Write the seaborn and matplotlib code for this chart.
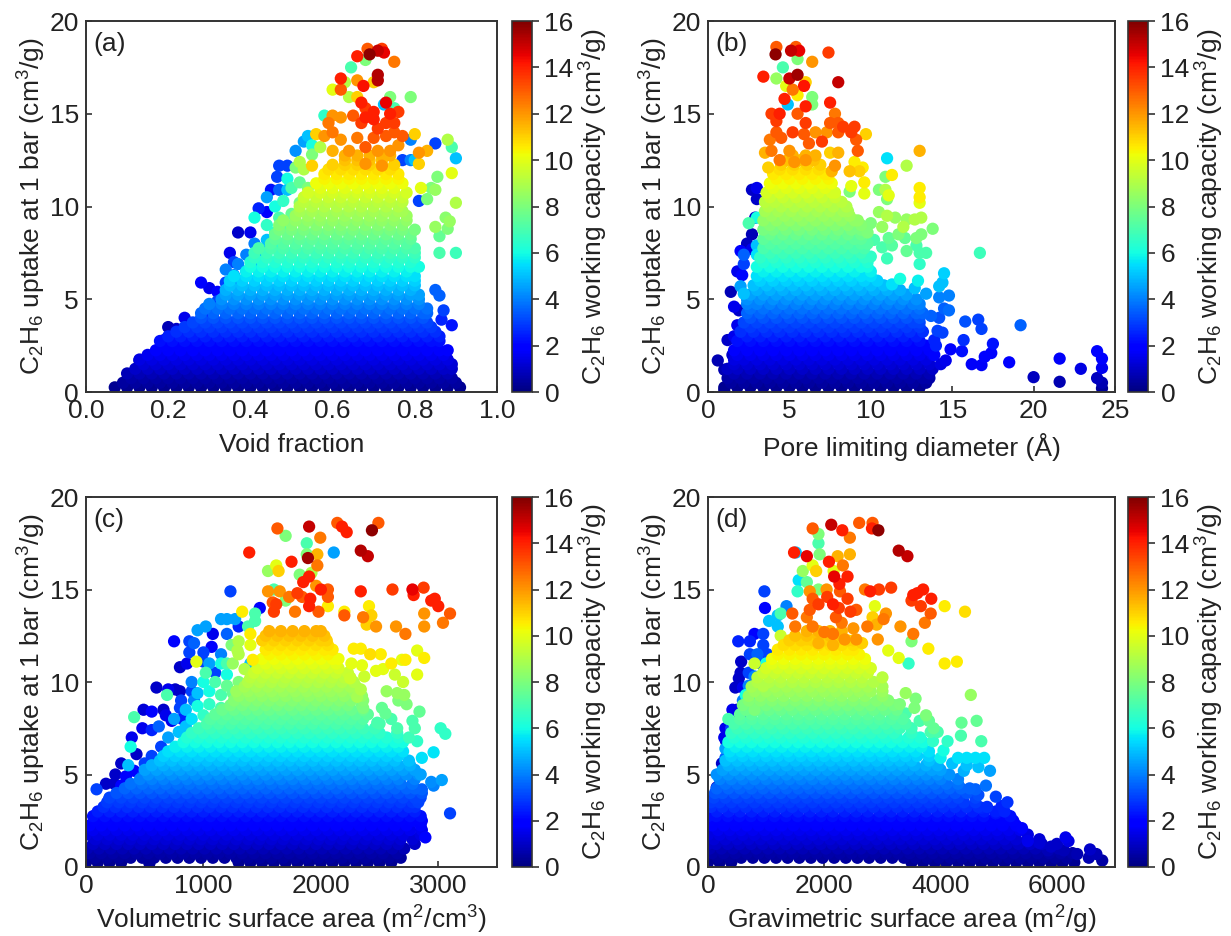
import matplotlib
matplotlib.use("Agg")
import matplotlib.pyplot as plt
import pandas as pd
import seaborn as sns
from matplotlib.cm import ScalarMappable
from matplotlib.colors import Normalize

row_uptake = [0.25, 0.75, 1.25, 1.75, 2.25, 2.75, 3.25, 3.75, 4.25, 4.75, 5.25, 5.75, 6.25,
              6.75, 7.25, 7.75, 8.25, 8.75, 9.25, 9.75, 10.25, 10.75, 11.25, 11.75, 12.25, 12.75]
row_capacity = [0.25, 0.6, 1.0, 1.4, 1.8, 2.2, 2.7, 3.1, 3.6, 4.0, 4.5, 5.0, 5.5,
                6.0, 6.5, 7.0, 7.4, 7.9, 8.4, 8.8, 9.2, 9.7, 10.2, 10.6, 11.0, 11.5]
# levels in between the rows above
mid_uptake = [0.5, 1, 1.5, 2, 2.5, 3, 3.5, 4, 4.5, 5, 5.5, 6, 6.5, 7, 7.5, 8, 8.5, 9, 9.5, 10, 10.5, 11, 11.5, 12, 12.5]
mid_capacity = [0.45, 0.8, 1.2, 1.6, 2.0, 2.45, 2.9, 3.35, 3.8, 4.25, 4.75, 5.25, 5.75, 6.25, 6.75,
                7.2, 7.65, 8.15, 8.6, 9.0, 9.45, 9.95, 10.4, 10.8, 11.25]

void_rows = [
    [7, 10, 13, 16, 19, 22, 25, 28, 31, 34, 37, 40, 43, 46, 49, 52, 55, 58, 61, 64, 67, 70, 73, 76, 79, 82, 85, 88, 91],
    [11, 14, 17, 20, 23, 26, 29, 32, 35, 38, 41, 44, 47, 50, 53, 56, 59, 62, 65, 68, 71, 74, 77, 80, 83, 86, 89],
    [12, 15, 18, 21, 24, 27, 30, 33, 36, 39, 42, 45, 48, 51, 54, 57, 60, 63, 66, 69, 72, 75, 78, 81, 84, 87, 89],
    [13, 16, 19, 22, 25, 28, 31, 34, 37, 40, 43, 46, 49, 52, 55, 58, 61, 64, 67, 70, 73, 76, 79, 82, 85, 88],
    [17, 20, 23, 26, 29, 32, 35, 38, 41, 44, 47, 50, 53, 56, 59, 62, 65, 68, 71, 74, 77, 80, 83, 86, 88],
    [18, 21, 24, 27, 30, 33, 36, 39, 42, 45, 48, 51, 54, 57, 60, 63, 66, 69, 72, 75, 78, 81, 84, 86],
    [22, 25, 28, 31, 34, 37, 40, 43, 46, 49, 52, 55, 58, 61, 64, 67, 70, 73, 76, 79, 82, 85],
    [26, 29, 32, 35, 38, 41, 44, 47, 50, 53, 56, 59, 62, 65, 68, 71, 74, 77, 80, 83],
    [28, 31, 34, 37, 40, 43, 46, 49, 52, 55, 58, 61, 64, 67, 70, 73, 76, 79, 82, 83],
    [30, 33, 36, 39, 42, 45, 48, 51, 54, 57, 60, 63, 66, 69, 72, 75, 78, 81],
    [34, 37, 40, 43, 46, 49, 52, 55, 58, 61, 64, 67, 70, 73, 76, 79, 81],
    [35, 38, 41, 44, 47, 50, 53, 56, 59, 62, 65, 68, 71, 74, 77, 80],
    [36, 39, 42, 45, 48, 51, 54, 57, 60, 63, 66, 69, 72, 75, 78, 80],
    [40, 43, 46, 49, 52, 55, 58, 61, 64, 67, 70, 73, 76, 79, 81],
    [41, 44, 47, 50, 53, 56, 59, 62, 65, 68, 71, 74, 77, 80],
    [42, 45, 48, 51, 54, 57, 60, 63, 66, 69, 72, 75, 78, 80],
    [46, 49, 52, 55, 58, 61, 64, 67, 70, 73, 76, 79],
    [47, 50, 53, 56, 59, 62, 65, 68, 71, 74, 77, 80],
    [48, 51, 54, 57, 60, 63, 66, 69, 72, 75, 78],
    [52, 55, 58, 61, 64, 67, 70, 73, 76, 77],
    [53, 56, 59, 62, 65, 68, 71, 74, 77],
    [54, 57, 60, 63, 66, 69, 72, 75, 78],
    [56, 59, 62, 65, 68, 71, 74, 77],
    [58, 61, 64, 67, 70, 73, 76],
    [60, 63, 66, 69, 72, 75],
    [63, 66, 69, 72, 74],
]
void_mid = [
    [9, 12, 15, 18, 21, 24, 27, 30, 33, 36, 39, 42, 45, 48, 51, 54, 57, 60, 63, 66, 69, 72, 75, 78, 81, 84, 87, 90],
    [10, 13, 16, 19, 22, 25, 28, 31, 34, 37, 40, 43, 46, 49, 52, 55, 58, 61, 64, 67, 70, 73, 76, 79, 82, 85, 88],
    [14, 17, 20, 23, 26, 29, 32, 35, 38, 41, 44, 47, 50, 53, 56, 59, 62, 65, 68, 71, 74, 77, 80, 83, 86, 89],
    [15, 18, 21, 24, 27, 30, 33, 36, 39, 42, 45, 48, 51, 54, 57, 60, 63, 66, 69, 72, 75, 78, 81, 84, 87],
    [19, 22, 25, 28, 31, 34, 37, 40, 43, 46, 49, 52, 55, 58, 61, 64, 67, 70, 73, 76, 79, 82, 85],
    [20, 23, 26, 29, 32, 35, 38, 41, 44, 47, 50, 53, 56, 59, 62, 65, 68, 71, 74, 77, 80, 83, 86],
    [24, 27, 30, 33, 36, 39, 42, 45, 48, 51, 54, 57, 60, 63, 66, 69, 72, 75, 78, 81, 84],
    [28, 31, 34, 37, 40, 43, 46, 49, 52, 55, 58, 61, 64, 67, 70, 73, 76, 79, 82],
    [29, 32, 35, 38, 41, 44, 47, 50, 53, 56, 59, 62, 65, 68, 71, 74, 77, 80, 83],
    [33, 36, 39, 42, 45, 48, 51, 54, 57, 60, 63, 66, 69, 72, 75, 78, 81],
    [34, 37, 40, 43, 46, 49, 52, 55, 58, 61, 64, 67, 70, 73, 76, 79],
    [35, 38, 41, 44, 47, 50, 53, 56, 59, 62, 65, 68, 71, 74, 77, 80],
    [39, 42, 45, 48, 51, 54, 57, 60, 63, 66, 69, 72, 75, 78],
    [40, 43, 46, 49, 52, 55, 58, 61, 64, 67, 70, 73, 76, 79],
    [41, 44, 47, 50, 53, 56, 59, 62, 65, 68, 71, 74, 77, 80],
    [45, 48, 51, 54, 57, 60, 63, 66, 69, 72, 75, 78],
    [46, 49, 52, 55, 58, 61, 64, 67, 70, 73, 76, 79],
    [47, 50, 53, 56, 59, 62, 65, 68, 71, 74, 77],
    [51, 54, 57, 60, 63, 66, 69, 72, 75, 78],
    [52, 55, 58, 61, 64, 67, 70, 73, 76],
    [53, 56, 59, 62, 65, 68, 71, 74, 77],
    [57, 60, 63, 66, 69, 72, 75],
    [58, 61, 64, 67, 70, 73, 76],
    [59, 62, 65, 68, 71, 74],
    [63, 66, 69, 72],
]
void_points = [
    (.69, 18.2, 15.8), (.71, 18.4, 15), (.685, 18.5, 13), (.72, 18.5, 13.5), (.725, 18.3, 14.5), (.66, 18.1, 14),
    (.68, 17.9, 8), (.645, 17.5, 7), (.75, 17.8, 12.5), (.71, 17.1, 15.3), (.71, 16.8, 15.2), (.62, 16.9, 14),
    (.66, 16.8, 12), (.70, 16.7, 11), (.63, 16.7, 9), (.675, 16.5, 14.3), (.60, 16.3, 10), (.62, 16.3, 13),
    (.64, 15.9, 9), (.66, 15.9, 11), (.74, 15.9, 8), (.79, 15.9, 8), (.725, 15.5, 5), (.67, 15.6, 14),
    (.73, 15.6, 14.5), (.75, 15.3, 7), (.68, 15.3, 13.5), (.70, 15.1, 14), (.58, 14.9, 6.5), (.60, 14.9, 12),
    (.74, 15, 14), (.76, 15.1, 13.5), (.59, 14.5, 12.5), (.65, 14.9, 13), (.68, 14.8, 14), (.70, 14.7, 14),
    (.73, 14.5, 13.5), (.75, 14.5, 13.5), (.62, 14.8, 12), (.67, 14.5, 13.5), (.75, 14, 13), (.71, 14.2, 13.5),
    (.56, 13.9, 11), (.54, 13.8, 5), (.53, 13.5, 4.5), (.51, 13, 4.3), (.55, 13.3, 6), (.70, 13.7, 13),
    (.73, 13.8, 13), (.77, 13.8, 13), (.79, 13.6, 4), (.80, 13.9, 11), (.85, 13.4, 3), (.88, 13.6, 9),
    (.89, 13.2, 7), (.90, 12.6, 5), (.83, 13, 11.5), (.81, 12.9, 12), (.79, 12.5, 4), (.77, 12.5, 3),
    (.81, 12.3, 11), (.80, 12.5, 5), (.68, 12.3, 12), (.72, 12.2, 12), (.64, 13, 12), (.60, 13, 11.5),
    (.62, 13.6, 12), (.66, 13.7, 12.5), (.68, 13.2, 13), (.71, 13, 12), (.74, 13, 12), (.76, 13.3, 12),
    (.47, 12.2, 3), (.49, 12.2, 3), (.51, 12.1, 8), (.55, 12.2, 11), (.53, 12, 9), (.89, 11.8, 10),
    (.855, 11.6, 8), (.815, 11, 10), (.84, 11, 8), (.85, 10.9, 8.5), (.465, 11.6, 3), (.45, 10.9, 2.2),
    (.47, 10.9, 3.5), (.49, 10.9, 5), (.44, 10.5, 4.5), (.90, 10.2, 9), (.81, 10.3, 3), (.83, 10.4, 8),
    (.42, 9.9, 2.5), (.44, 9.7, 1.8), (.41, 9.4, 6), (.875, 9.4, 8.3), (.885, 9.2, 8.5), (.85, 8.9, 8.5),
    (.88, 8.8, 8), (.86, 8.4, 7.5), (.37, 8.6, 1), (.40, 8.6, 1.5), (.90, 7.5, 6.8), (.86, 7.5, 7),
    (.35, 7.5, 1.5), (.36, 7, 3), (.34, 6.6, 4), (.28, 5.9, 2), (.30, 5.6, 1.5), (.32, 5.4, 2), (.34, 5.9, 3),
    (.85, 5.5, 3.5), (.86, 5.2, 3.5), (.87, 4.4, 3), (.865, 3.9, 2.5), (.89, 3.6, 2.3), (.24, 4, 1.5),
    (.2, 3.5, .8), (.22, 3.4, 1), (.25, 3.3, 1.5), (.19, 2.8, .8), (.13, 1.7, .5),
    (.44, 9, 6.5), (.47, 9.4, 7), (.50, 9.6, 7.5), (.46, 8.6, 6.5), (.49, 8.8, 7), (.44, 8.2, 5), (.47, 8, 6),
    (.41, 8, 4), (.43, 7.6, 5), (.39, 7.4, 4), (.41, 7, 5), (.37, 6.9, 4), (.39, 6.5, 4.5), (.36, 6.3, 4),
    (.37, 5.8, 4), (.34, 5.3, 3.5), (.32, 4.9, 3), (.30, 4.6, 2.5), (.29, 4.2, 2.5), (.52, 10.2, 8), (.48, 10.3, 6.5),
    (.46, 10, 6), (.5, 11, 7), (.52, 11.3, 7.5), (.54, 11, 8), (.49, 11.5, 6), (.52, 12.4, 9), (.55, 12.8, 8),
    (.57, 13.2, 9), (.58, 13.8, 12), (.6, 14, 12.5),
]

pld_rows = [
    [1, 1.8, 2.6, 3.4, 4.2, 5, 5.8, 6.6, 7.4, 8.2, 9, 9.8, 10.6, 11.4, 12.2, 13],
    [1.2, 2, 2.8, 3.6, 4.4, 5.2, 6, 6.8, 7.6, 8.4, 9.2, 10, 10.8, 11.6, 12.4, 13.2, 13.6],
    [1.2, 1.8, 2.6, 3.4, 4.2, 5, 5.8, 6.6, 7.4, 8.2, 9, 9.8, 10.6, 11.4, 12.2, 13, 13.8],
    [1.6, 2.2, 3, 3.8, 4.6, 5.4, 6.2, 7, 7.8, 8.6, 9.4, 10.2, 11, 11.8, 12.6, 13.4],
    [1.6, 2.4, 3.2, 4, 4.8, 5.6, 6.4, 7.2, 8, 8.8, 9.6, 10.4, 11.2, 12, 12.8, 13.6],
    [1.8, 2.6, 3.4, 4.2, 5, 5.8, 6.6, 7.4, 8.2, 9, 9.8, 10.6, 11.4, 12.2, 13],
    [2, 2.8, 3.6, 4.4, 5.2, 6, 6.8, 7.6, 8.4, 9.2, 10, 10.8, 11.6, 12.4, 13.2],
    [2.2, 3, 3.8, 4.6, 5.4, 6.2, 7, 7.8, 8.6, 9.4, 10.2, 11, 11.8, 12.6, 13],
    [2.4, 3.2, 4, 4.8, 5.6, 6.4, 7.2, 8, 8.8, 9.6, 10.4, 11.2, 12, 12.8, 13.2],
    [2.4, 3, 3.8, 4.6, 5.4, 6.2, 7, 7.8, 8.6, 9.4, 10.2, 11, 11.8, 12.6, 13],
    [2.6, 3.4, 4.2, 5, 5.8, 6.6, 7.4, 8.2, 9, 9.8, 10.6, 11.4, 12.2],
    [2.8, 3.6, 4.4, 5.2, 6, 6.8, 7.6, 8.4, 9.2, 10, 10.8],
    [3, 3.8, 4.6, 5.4, 6.2, 7, 7.8, 8.6, 9.4, 10],
    [3, 3.8, 4.6, 5.4, 6.2, 7, 7.8, 8.6, 9.4, 9.8],
    [3.2, 4, 4.8, 5.6, 6.4, 7.2, 8, 8.8, 9.6],
    [3.4, 4.2, 5, 5.8, 6.6, 7.4, 8.2, 9, 9.6],
    [3.4, 4.2, 5, 5.8, 6.6, 7.4, 8.2, 9, 9.4],
    [3.4, 4, 4.8, 5.6, 6.4, 7.2, 8, 8.8, 9.4],
    [3.4, 4.2, 5, 5.8, 6.6, 7.4, 8.2, 9, 9.2],
    [3.5, 4.3, 5.1, 5.9, 6.7, 7.5, 8.3, 8.6],
    [3.5, 4.1, 4.9, 5.7, 6.5, 7.3, 8.2],
    [3.6, 4.4, 5.2, 6, 6.8, 7.6, 7.8],
    [3.8, 4.6, 5.4, 6.2, 7, 7.6],
    [4, 4.8, 5.6, 6.4, 7.2, 7.4],
    [4.5, 5.3, 6.1, 6.9],
    [5.2, 6, 6.6],
]
pld_mid = [
    [1.4, 2.2, 3, 3.8, 4.6, 5.4, 6.2, 7, 7.8, 8.6, 9.4, 10.2, 11, 11.8, 12.6, 13.4],
    [1.6, 2.4, 3.2, 4, 4.8, 5.6, 6.4, 7.2, 8, 8.8, 9.6, 10.4, 11.2, 12, 12.8, 13.6],
    [1.6, 2.4, 3.2, 4, 4.8, 5.6, 6.4, 7.2, 8, 8.8, 9.6, 10.4, 11.2, 12, 12.8, 13.6],
    [1.8, 2.6, 3.4, 4.2, 5, 5.8, 6.6, 7.4, 8.2, 9, 9.8, 10.6, 11.4, 12.2, 13, 13.8],
    [2.2, 3, 3.8, 4.6, 5.4, 6.2, 7, 7.8, 8.6, 9.4, 10.2, 11, 11.8, 12.6, 13.4],
    [2.4, 3.2, 4, 4.8, 5.6, 6.4, 7.2, 8, 8.8, 9.6, 10.4, 11.2, 12, 12.8],
    [2.6, 3.4, 4.2, 5, 5.8, 6.6, 7.4, 8.2, 9, 9.8, 10.6, 11.4, 12.2, 13],
    [2.6, 3.4, 4.2, 5, 5.8, 6.6, 7.4, 8.2, 9, 9.8, 10.6, 11.4, 12.2, 13],
    [2.6, 3.4, 4.2, 5, 5.8, 6.6, 7.4, 8.2, 9, 9.8, 10.6, 11.4, 12.2, 13],
    [2.4, 3.2, 4, 4.8, 5.6, 6.4, 7.2, 8, 8.8, 9.6, 10.4, 11.2, 12, 12.8],
    [3, 3.8, 4.6, 5.4, 6.2, 7, 7.8, 8.6, 9.4, 10.2, 11, 11.8],
    [3.2, 4, 4.8, 5.6, 6.4, 7.2, 8, 8.8, 9.6, 10.4],
    [3.4, 4.2, 5, 5.8, 6.6, 7.4, 8.2, 9, 10],
    [3.4, 4.2, 5, 5.8, 6.6, 7.4, 8.2, 9, 9.8],
    [3.8, 4.6, 5.4, 6.2, 7, 7.8, 8.6, 9.4],
    [3.8, 4.6, 5.4, 6.2, 7, 7.8, 8.6, 9.4, 9.8],
    [3.8, 4.6, 5.4, 6.2, 7, 7.8, 8.6, 9.4],
    [3.8, 4.6, 5.4, 6.2, 7, 7.8, 8.6, 9.4],
    [3.9, 4.7, 5.5, 6.3, 7.1, 7.9, 8.7],
    [3.7, 4.5, 5.3, 6.1, 6.9, 7.7, 8.5],
    [3.8, 4.6, 5.4, 6.2, 7, 7.8],
    [4, 4.8, 5.6, 6.4, 7.2],
    [4.2, 5, 5.8, 6.6, 7.4],
    [4.4, 5.2, 6, 6.8],
    [4.9, 5.7, 6.5],
]
pld_points = [
    (4.2, 18.6, 13), (4.15, 18.2, 15.8), (5.4, 18.6, 13), (5.1, 18.4, 15), (5.6, 18.4, 14.5), (7.4, 18.3, 13.5),
    (5.5, 17.95, 8), (6.4, 17.8, 12), (4.6, 17.5, 7), (5.5, 17.1, 15.5), (3.4, 17, 14), (4.2, 16.9, 8.5),
    (5, 16.9, 15), (6, 16.7, 11), (8, 16.7, 15), (5.9, 16.5, 14.2), (4.8, 16.5, 10), (5.2, 16.3, 12.5),
    (5.5, 16, 10.5), (6.4, 15.9, 8), (4.7, 15.8, 14), (7.5, 15.6, 14), (6, 15.4, 14), (6.4, 15.5, 8),
    (4.9, 15.5, 5), (3.9, 15, 13.5), (4.4, 15, 14), (5.5, 15, 13), (7.8, 15, 12.5), (4.2, 14.6, 13.5),
    (7.5, 14.5, 13), (6, 14.5, 13.5), (8, 14.5, 13), (8.3, 14.3, 13.5), (9, 14.3, 13.5), (4.2, 14, 13),
    (5.2, 14, 13.5), (5.9, 13.9, 13), (6.6, 14, 12), (7.3, 14, 12), (8, 14, 13), (8.8, 14, 13.5), (9.7, 13.9, 11),
    (3.8, 13.6, 12.5), (4.5, 13.7, 13), (7, 13.5, 13.5), (9.1, 13.6, 13), (6.2, 13.4, 13), (3.5, 12.9, 11.5),
    (3.9, 13, 12.5), (5, 13, 12), (7.5, 12.9, 11), (8, 12.9, 11.5), (9.2, 13, 13), (13, 13, 11.5), (11, 12.6, 5.5),
    (4.4, 12.5, 12.5), (5.3, 12.4, 12), (6, 12.5, 12), (7.8, 12.2, 12), (9, 12.4, 10.5), (9.5, 12.1, 10.5),
    (12.2, 12.2, 9), (3.7, 12.1, 11), (7.6, 11.9, 11.5), (8.7, 11.9, 11.3), (9.3, 11.9, 11), (10.9, 11.6, 8),
    (11.3, 11.7, 10.5), (8.8, 11.1, 10), (9.6, 11.3, 10.5), (4.2, 11.2, 10), (13, 11, 10.5), (3, 11, 1.5),
    (2.7, 10.9, 1), (10.9, 10.9, 9), (11.1, 10.6, 10), (10.5, 10.9, 8), (8.7, 10.8, 8), (9.6, 10.7, 10),
    (13, 10.5, 10.5), (13, 10.2, 10), (3, 10.4, 1), (11, 10.4, 8), (10.5, 9.7, 8.5), (11, 9.5, 9), (11.5, 9.4, 8.5),
    (10, 9.1, 8), (9.8, 8.6, 8), (10.7, 8.9, 8.5), (12.2, 9.3, 8.5), (12.7, 9.3, 9), (13.1, 9.4, 9), (12, 8.9, 9),
    (13.8, 8.8, 8), (11.1, 8.3, 7.5), (11.7, 8.5, 8), (12.1, 8.3, 7.5), (12.8, 8.3, 8), (13.1, 8.5, 8),
    (10.2, 8.2, 7), (10.7, 7.8, 7), (11.3, 7.9, 7.3), (12.2, 7.6, 7.5), (12.8, 7.9, 7), (13, 7.5, 7), (13.4, 7.5, 7),
    (10, 7.3, 6.5), (11, 7.2, 6.8), (13, 6.9, 6.5), (16.7, 7.5, 6.8), (14.5, 6.4, 5.3), (14.4, 5.9, 5),
    (14.2, 5.7, 5), (11.8, 6.1, 6), (11.3, 5.8, 5.5), (12.9, 6, 5.8), (12.7, 5.6, 5), (14.8, 5.2, 4), (13.4, 5.3, 4.5),
    (14.2, 5.1, 4), (15.8, 3.8, 3.3), (16.6, 3.9, 3), (16.8, 3.4, 3), (19.2, 3.6, 3.5), (15.7, 2.8, 2.7),
    (15.6, 2.2, 2.2), (14.9, 2.3, 2), (17.5, 2.6, 2.3), (17.4, 2.1, 2), (17, 1.9, 2), (16.2, 1.5, 1.7),
    (16.8, 1.45, 1.7), (18.5, 1.6, 1.8), (14.6, 1.7, 1.5), (14.3, 1.5, 1.4), (20, .8, .9), (21.6, 1.8, 1.7),
    (21.6, .55, .7), (22.9, 1.25, 1.4), (23.9, 2.2, 2), (24.2, 1.8, 1.8), (24.2, 1.3, 1.6), (23.9, .75, .9),
    (24.2, .5, .7), (24.2, .2, .4), (14.5, 4.5, 3.5), (14.8, 4.4, 3.7), (14.2, 4, 3.3), (14.1, 3.3, 3),
    (14.4, 3.2, 3), (13.9, 2.8, 2.5), (14, 2.5, 2.5), (13.7, 4.1, 3.5), (13.9, 2, 2), (2.9, 9.4, 1), (2.5, 9.1, 7),
    (3, 9.4, 6), (2.7, 8.5, .8), (2.4, 8, .9), (3, 7.9, 5), (2.7, 7.7, 1.5), (2, 7.6, 1.8), (2.2, 7.4, 3.5),
    (3, 7.4, 5.5), (2.2, 6.9, 3), (1.8, 6.5, 1.5), (2.1, 6.3, 2), (2, 5.7, 4.5), (2.2, 5.3, 5), (1.4, 5.4, .8),
    (1.6, 4.6, 1.5), (1.9, 4.4, 1), (1.8, 3.6, 1.5), (2.5, 4, 2.5), (1.6, 3, 1.5), (1.2, 2.8, 1), (.6, 1.7, .7),
    (1, 1.2, .7), (1.5, 2, 1), (1, .1, .3),
]

vsa_rows = [
    [0, 100, 200, 300, 1300, 1400, 1500, 1600, 1700, 1800, 1900, 2000, 2100, 2200, 2300, 2400, 2500, 2600],
    [30, 130, 230, 330, 430, 530, 630, 730, 830, 930, 1030, 1130, 1230, 1330, 1430, 1530, 1630, 1730, 1830, 1930, 2030, 2130, 2230, 2330, 2430, 2530, 2650],
    [60, 160, 260, 360, 460, 560, 660, 760, 860, 960, 1060, 1160, 1260, 1360, 1460, 1560, 1660, 1760, 1860, 1960, 2060, 2160, 2260, 2360, 2460, 2560, 2660, 2800],
    [0, 100, 200, 300, 400, 500, 600, 700, 800, 900, 1000, 1100, 1200, 1300, 1400, 1500, 1600, 1700, 1800, 1900, 2000, 2100, 2200, 2300, 2400, 2500, 2600, 2700, 2850],
    [30, 130, 230, 330, 430, 530, 630, 730, 830, 930, 1030, 1130, 1230, 1330, 1430, 1530, 1630, 1730, 1830, 1930, 2030, 2130, 2230, 2330, 2430, 2530, 2630, 2730, 2850],
    [60, 160, 260, 360, 460, 560, 660, 760, 860, 960, 1060, 1160, 1260, 1360, 1460, 1560, 1660, 1760, 1860, 1960, 2060, 2160, 2260, 2360, 2460, 2560, 2660, 2760, 2850],
    [150, 250, 350, 450, 550, 650, 750, 850, 950, 1050, 1150, 1250, 1350, 1450, 1550, 1650, 1750, 1850, 1950, 2050, 2150, 2250, 2350, 2450, 2550, 2650, 2750, 2800],
    [200, 300, 400, 500, 600, 700, 800, 900, 1000, 1100, 1200, 1300, 1400, 1500, 1600, 1700, 1800, 1900, 2000, 2100, 2200, 2300, 2400, 2500, 2600, 2700, 2800, 2850],
    [330, 430, 530, 630, 730, 830, 930, 1030, 1130, 1230, 1330, 1430, 1530, 1630, 1730, 1830, 1930, 2030, 2130, 2230, 2330, 2430, 2530, 2630, 2730, 2800],
    [460, 560, 660, 760, 860, 960, 1060, 1160, 1260, 1360, 1460, 1560, 1660, 1760, 1860, 1960, 2060, 2160, 2260, 2360, 2460, 2560, 2660, 2800],
    [500, 600, 700, 800, 900, 1000, 1100, 1200, 1300, 1400, 1500, 1600, 1700, 1800, 1900, 2000, 2100, 2200, 2300, 2400, 2500, 2600, 2700, 2800],
    [630, 730, 830, 930, 1030, 1130, 1230, 1330, 1430, 1530, 1630, 1730, 1830, 1930, 2030, 2130, 2230, 2330, 2430, 2530, 2630, 2750],
    [700, 800, 900, 1000, 1100, 1200, 1300, 1400, 1500, 1600, 1700, 1800, 1900, 2000, 2100, 2200, 2300, 2400, 2500, 2600, 2700],
    [830, 930, 1030, 1130, 1230, 1330, 1430, 1530, 1630, 1730, 1830, 1930, 2030, 2130, 2230, 2330, 2430, 2530, 2630, 2700],
    [900, 1000, 1100, 1200, 1300, 1400, 1500, 1600, 1700, 1800, 1900, 2000, 2100, 2200, 2300, 2400, 2500, 2650],
    [1030, 1130, 1230, 1330, 1430, 1530, 1630, 1730, 1830, 1930, 2030, 2130, 2230, 2330, 2500],
    [1100, 1200, 1300, 1400, 1500, 1600, 1700, 1800, 1900, 2000, 2100, 2200, 2300, 2400],
    [1230, 1330, 1430, 1530, 1630, 1730, 1830, 1930, 2030, 2130, 2230, 2350],
    [1300, 1400, 1500, 1600, 1700, 1800, 1900, 2000, 2100, 2200, 2300, 2350],
    [1350, 1450, 1550, 1650, 1750, 1850, 1950, 2050, 2150, 2250, 2300],
    [1400, 1500, 1600, 1700, 1800, 1900, 2000, 2100, 2200, 2250],
    [1460, 1560, 1660, 1760, 1860, 1960, 2060, 2150],
    [1500, 1600, 1700, 1800, 1900, 2000, 2100, 2150],
    [1530, 1630, 1730, 1830, 1930, 2030, 2100],
    [1500, 1600, 1700, 1800, 1900, 2000, 2050],
    [1560, 1660, 1760, 1860, 1960, 2000],
]
vsa_mid = [
    [80, 180, 280, 380, 480, 580, 680, 780, 880, 980, 1080, 1180, 1280, 1380, 1480, 1580, 1680, 1780, 1880, 1980, 2080, 2180, 2280, 2380, 2480, 2580, 2680],
    [10, 110, 210, 310, 410, 510, 610, 710, 810, 910, 1010, 1110, 1210, 1310, 1410, 1510, 1610, 1710, 1810, 1910, 2010, 2110, 2210, 2310, 2410, 2510, 2610, 2710],
    [80, 180, 280, 380, 480, 580, 680, 780, 880, 980, 1080, 1180, 1280, 1380, 1480, 1580, 1680, 1780, 1880, 1980, 2080, 2180, 2280, 2380, 2480, 2580, 2680, 2780],
    [60, 160, 260, 360, 460, 560, 660, 760, 860, 960, 1060, 1160, 1260, 1360, 1460, 1560, 1660, 1760, 1860, 1960, 2060, 2160, 2260, 2360, 2460, 2560, 2660, 2760, 2860],
    [80, 180, 280, 380, 480, 580, 680, 780, 880, 980, 1080, 1180, 1280, 1380, 1480, 1580, 1680, 1780, 1880, 1980, 2080, 2180, 2280, 2380, 2480, 2580, 2680, 2780, 2860],
    [100, 200, 300, 400, 500, 600, 700, 800, 900, 1000, 1100, 1200, 1300, 1400, 1500, 1600, 1700, 1800, 1900, 2000, 2100, 2200, 2300, 2400, 2500, 2600, 2700, 2800],
    [180, 280, 380, 480, 580, 680, 780, 880, 980, 1080, 1180, 1280, 1380, 1480, 1580, 1680, 1780, 1880, 1980, 2080, 2180, 2280, 2380, 2480, 2580, 2680, 2780],
    [260, 360, 460, 560, 660, 760, 860, 960, 1060, 1160, 1260, 1360, 1460, 1560, 1660, 1760, 1860, 1960, 2060, 2160, 2260, 2360, 2460, 2560, 2660, 2760, 2860],
    [380, 480, 580, 680, 780, 880, 980, 1080, 1180, 1280, 1380, 1480, 1580, 1680, 1780, 1880, 1980, 2080, 2180, 2280, 2380, 2480, 2580, 2680, 2780],
    [530, 630, 730, 830, 930, 1030, 1130, 1230, 1330, 1430, 1530, 1630, 1730, 1830, 1930, 2030, 2130, 2230, 2330, 2430, 2530, 2630, 2730, 2830],
    [560, 660, 760, 860, 960, 1060, 1160, 1260, 1360, 1460, 1560, 1660, 1760, 1860, 1960, 2060, 2160, 2260, 2360, 2460, 2560, 2660, 2760],
    [660, 760, 860, 960, 1060, 1160, 1260, 1360, 1460, 1560, 1660, 1760, 1860, 1960, 2060, 2160, 2260, 2360, 2460, 2560, 2660],
    [760, 860, 960, 1060, 1160, 1260, 1360, 1460, 1560, 1660, 1760, 1860, 1960, 2060, 2160, 2260, 2360, 2460, 2560, 2660],
    [860, 960, 1060, 1160, 1260, 1360, 1460, 1560, 1660, 1760, 1860, 1960, 2060, 2160, 2260, 2360, 2460, 2560, 2660],
    [960, 1060, 1160, 1260, 1360, 1460, 1560, 1660, 1760, 1860, 1960, 2060, 2160, 2260, 2360, 2460],
    [1060, 1160, 1260, 1360, 1460, 1560, 1660, 1760, 1860, 1960, 2060, 2160, 2260, 2360],
    [1160, 1260, 1360, 1460, 1560, 1660, 1760, 1860, 1960, 2060, 2160, 2260, 2360],
    [1260, 1360, 1460, 1560, 1660, 1760, 1860, 1960, 2060, 2160, 2260, 2360],
    [1280, 1380, 1480, 1580, 1680, 1780, 1880, 1980, 2080, 2180, 2280],
    [1380, 1480, 1580, 1680, 1780, 1880, 1980, 2080, 2180, 2280],
    [1430, 1530, 1630, 1730, 1830, 1930, 2030, 2130, 2230],
    [1530, 1630, 1730, 1830, 1930, 2030, 2130],
    [1560, 1660, 1760, 1860, 1960, 2060],
    [1560, 1660, 1760, 1860, 1960, 2060],
    [1530, 1630, 1730, 1830, 1930, 2030],
]
vsa_points = [
    (1900, 18.4, 15), (2140, 18.6, 13), (2180, 18.4, 14), (2220, 18.1, 14), (2435, 18.2, 15.8), (2490, 18.6, 13),
    (1630, 18.3, 13), (1700, 17.9, 8), (1995, 17.8, 12.5), (1880, 17.5, 7), (1390, 17, 14), (2340, 17.1, 15.3),
    (2400, 16.8, 15), (2110, 17, 4.5), (1750, 16.5, 14), (1880, 16.9, 8), (1890, 16.7, 15.5), (1970, 16.9, 11.5),
    (1620, 16.3, 10), (1970, 16.3, 12.5), (1550, 16, 8.5), (1640, 16, 11), (1820, 15.8, 8), (1900, 15.7, 14),
    (1850, 15.4, 14), (1920, 15.9, 9), (1230, 14.9, 3), (1550, 14.9, 12), (1600, 15, 7), (1650, 14.9, 12),
    (1800, 14.8, 13.5), (1960, 15.2, 12), (2000, 15, 14), (2060, 15, 13), (2340, 14.9, 14), (2610, 15, 13.5),
    (2780, 15, 14.5), (2790, 14.7, 14), (2875, 15.1, 13.5), (2940, 14.4, 14), (2970, 14.5, 14), (3000, 14.1, 14),
    (3100, 13.7, 13), (2880, 13.7, 12), (3040, 13.2, 12.5), (2880, 13, 12), (2430, 13.6, 11), (2390, 13.1, 11),
    (2360, 13.5, 12.5), (2200, 13.6, 13), (2470, 13, 12), (2640, 13, 12), (2720, 12.6, 12.5), (2200, 13.8, 10.5),
    (2410, 14.1, 10.5), (1590, 14.3, 13), (1620, 14.2, 13.5), (1700, 14.4, 8), (1730, 14.6, 12.5), (1840, 14.6, 13),
    (1910, 14.5, 14), (2060, 14.6, 13), (2060, 14.1, 10.5), (1600, 13.8, 13.5), (1780, 13.8, 12.5), (1900, 14.1, 14),
    (1980, 13.8, 13), (1480, 14, 2), (1330, 13.8, 10.5), (1440, 13.7, 7), (1440, 13.3, 7), (1200, 13.4, 4.5),
    (1270, 13.4, 4.5), (1150, 13.4, 4.5), (1020, 13, 4.5), (950, 12.8, 4.5), (1080, 12.6, 1.5), (1200, 12.6, 3.5),
    (1300, 13, 2.5), (1380, 13, 7), (750, 12.2, 2), (880, 12.2, 3), (920, 12.1, 3.5), (1070, 11.9, 2), (1000, 11.6, 3),
    (880, 11.6, 3), (800, 10.8, 1), (860, 11, 1.5), (940, 11.1, 10), (1150, 11.5, 4), (1240, 12, 8), (1300, 12.2, 9),
    (1290, 11.7, 9), (1420, 11.2, 10.5), (1150, 11, 6), (1200, 11, 7), (1100, 10.5, 3), (1020, 10.5, 7), (1200, 10.4, 6),
    (2280, 11.8, 10.5), (2340, 11.8, 10.5), (2820, 11.7, 10), (2880, 11.3, 10.5), (2420, 11.5, 10.8), (2510, 11.5, 10.5),
    (2600, 11, 10.5), (2690, 11.2, 10), (2720, 11.2, 10.5), (2260, 11, 10), (2350, 10.9, 10), (2530, 10.7, 10),
    (2470, 10.6, 10), (2630, 10.4, 9.5), (2820, 10.4, 10), (2250, 10.2, 9.5), (2370, 10.3, 9.5), (2700, 10, 9.5),
    (2560, 9.5, 8.5), (2650, 9.4, 8.5), (2710, 9.3, 8.5), (2340, 9.6, 9), (2310, 9.2, 8.8), (2660, 9, 8), (2730, 8.8, 8),
    (2360, 8.6, 8), (2520, 8.6, 7.5), (2550, 8.3, 7.5), (2840, 8.4, 7.5), (2600, 8, 7), (2780, 7.9, 7), (3020, 7.5, 6.5),
    (3060, 7.2, 6.5), (2480, 7.8, 7), (2650, 7.5, 7), (2800, 7.5, 7), (2750, 7, 6.8), (2820, 6.8, 6.5), (2960, 6.2, 5.6),
    (2860, 5.9, 5.5), (3030, 4.7, 4.5), (2940, 4.6, 4.2), (2960, 4.4, 4), (3100, 2.9, 3), (2890, 1.6, 2), (2830, 3.5, 3),
    (2850, 5, 4.5), (2860, 4.2, 3.5), (600, 9.7, 1), (700, 9.6, 1.5), (760, 9.6, 1), (690, 9.3, 7), (800, 9.5, 1),
    (810, 9, 3), (900, 9.5, 3), (920, 9, 4), (800, 8.6, 3), (820, 8, 2.5), (490, 8.5, 1.2), (560, 8.4, 2), (660, 8.5, 1),
    (680, 8.2, 1.5), (410, 8.1, 7), (730, 7.9, 1.5), (480, 7.5, 1.5), (560, 7.4, 2.5), (390, 7, 1.5), (380, 6.5, 6),
    (430, 6.1, 1), (560, 6, 3), (640, 6.5, 3), (700, 7, 4.5), (790, 7.3, 5), (300, 5.6, 1), (360, 5.5, 5), (410, 5.2, 2),
    (500, 5.6, 3), (250, 5, 1), (340, 4.9, 2), (170, 4.5, 1), (240, 4.5, 1), (90, 4.2, 3), (300, 4.4, 2), (480, 4.9, 3),
    (100, 2.9, 1.5), (200, 2.9, 2), (540, .2, .4), (200, 3.7, 2), (280, 3.9, 2.5), (380, 3.8, 2.8), (450, 4.2, 3),
    (900, 10, 4), (1000, 10, 6), (1100, 10, 7), (1200, 9.8, 7.5), (1300, 10, 8), (950, 9.4, 5), (1050, 9.5, 6),
    (1150, 9.3, 7), (1250, 9.4, 7.5), (850, 8.5, 5), (950, 8.7, 6), (1050, 8.8, 6.5), (1150, 8.6, 7), (1250, 8.7, 7.5),
    (750, 8, 4.5), (900, 8, 5.5), (1000, 8.2, 6.5), (1100, 7.9, 6.5), (620, 7.6, 3.5), (850, 7.6, 5), (1000, 7.5, 6),
    (1250, 11, 8.5), (1350, 10.7, 9), (1300, 11.5, 9), (1400, 12, 10), (1400, 12.6, 10.5), (1000, 11.1, 3),
    (1050, 11, 4.5), (1400, 11, 5),
]

gsa_rows = [
    [0, 200, 400, 3500, 3700, 3900, 4100, 4300, 4500, 4700, 4900, 5100, 5300, 5500, 5700, 5900, 6100, 6300],
    [70, 270, 470, 670, 870, 1070, 1270, 1470, 1670, 1870, 2070, 2270, 2470, 2670, 2870, 3070, 3270, 3470, 3670, 3870, 4070, 4270, 4470, 4670, 4870, 5070, 5270, 5470, 5670, 5870, 6070, 6270],
    [0, 140, 340, 540, 740, 940, 1140, 1340, 1540, 1740, 1940, 2140, 2340, 2540, 2740, 2940, 3140, 3340, 3540, 3740, 3940, 4140, 4340, 4540, 4740, 4940, 5140, 5340, 5540, 5740, 6000],
    [0, 200, 400, 600, 800, 1000, 1200, 1400, 1600, 1800, 2000, 2200, 2400, 2600, 2800, 3000, 3200, 3400, 3600, 3800, 4000, 4200, 4400, 4600, 4800, 5000, 5200, 5500],
    [70, 270, 470, 670, 870, 1070, 1270, 1470, 1670, 1870, 2070, 2270, 2470, 2670, 2870, 3070, 3270, 3470, 3670, 3870, 4070, 4270, 4470, 4670, 4870, 5070, 5300],
    [0, 140, 340, 540, 740, 940, 1140, 1340, 1540, 1740, 1940, 2140, 2340, 2540, 2740, 2940, 3140, 3340, 3540, 3740, 3940, 4140, 4340, 4540, 4740, 5200],
    [50, 250, 450, 650, 850, 1050, 1250, 1450, 1650, 1850, 2050, 2250, 2450, 2650, 2850, 3050, 3250, 3450, 3650, 3850, 4050, 4250, 4450, 4650, 4800],
    [100, 300, 500, 700, 900, 1100, 1300, 1500, 1700, 1900, 2100, 2300, 2500, 2700, 2900, 3100, 3300, 3500, 3700, 3900, 4100, 4300, 4600],
    [150, 350, 550, 750, 950, 1150, 1350, 1550, 1750, 1950, 2150, 2350, 2550, 2750, 2950, 3150, 3350, 3550, 3750, 3950, 4150, 4350, 4500],
    [200, 400, 600, 800, 1000, 1200, 1400, 1600, 1800, 2000, 2200, 2400, 2600, 2800, 3000, 3200, 3400, 3600, 3800, 4000, 4300],
    [250, 450, 650, 850, 1050, 1250, 1450, 1650, 1850, 2050, 2250, 2450, 2650, 2850, 3050, 3250, 3450, 3650, 3850, 4000],
    [300, 500, 700, 900, 1100, 1300, 1500, 1700, 1900, 2100, 2300, 2500, 2700, 2900, 3100, 3300, 3500, 3800],
    [370, 570, 770, 970, 1170, 1370, 1570, 1770, 1970, 2170, 2370, 2570, 2770, 2970, 3170, 3370, 3570, 3800],
    [350, 550, 750, 950, 1150, 1350, 1550, 1750, 1950, 2150, 2350, 2550, 2750, 2950, 3150, 3350, 3550, 3700],
    [400, 600, 800, 1000, 1200, 1400, 1600, 1800, 2000, 2200, 2400, 2600, 2800, 3000, 3200, 3500],
    [450, 650, 850, 1050, 1250, 1450, 1650, 1850, 2050, 2250, 2450, 2650, 2850, 3050, 3250, 3400],
    [550, 750, 950, 1150, 1350, 1550, 1750, 1950, 2150, 2350, 2550, 2750, 2950, 3200],
    [600, 800, 1000, 1200, 1400, 1600, 1800, 2000, 2200, 2400, 2600, 2800, 3000, 3200],
    [700, 900, 1100, 1300, 1500, 1700, 1900, 2100, 2300, 2500, 2700, 3000],
    [750, 950, 1150, 1350, 1550, 1750, 1950, 2150, 2350, 2550, 2750, 3000],
    [850, 1050, 1250, 1450, 1650, 1850, 2050, 2250, 2450, 2650, 3000],
    [1000, 1200, 1400, 1600, 1800, 2000, 2200, 2400, 2600, 2800],
    [1100, 1300, 1500, 1700, 1900, 2100, 2300, 2500, 2700],
    [1200, 1400, 1600, 1800, 2000, 2200, 2400, 2500],
    [1400, 1600, 1800, 2000, 2200, 2400, 2500],
    [1700, 1900, 2100, 2300],
]
gsa_mid = [
    [170, 370, 570, 770, 970, 1170, 1370, 1570, 1770, 1970, 2170, 2370, 2570, 2770, 2970, 3170, 3370, 3570, 3770, 3970, 4170, 4370, 4570, 4770, 4970, 5170, 5370, 5570, 5770, 5970, 6170],
    [30, 230, 430, 630, 830, 1030, 1230, 1430, 1630, 1830, 2030, 2230, 2430, 2630, 2830, 3030, 3230, 3430, 3630, 3830, 4030, 4230, 4430, 4630, 4830, 5030, 5230, 5430, 5630, 5830, 6030],
    [100, 300, 500, 700, 900, 1100, 1300, 1500, 1700, 1900, 2100, 2300, 2500, 2700, 2900, 3100, 3300, 3500, 3700, 3900, 4100, 4300, 4500, 4700, 4900, 5100, 5300, 5500, 5700],
    [170, 370, 570, 770, 970, 1170, 1370, 1570, 1770, 1970, 2170, 2370, 2570, 2770, 2970, 3170, 3370, 3570, 3770, 3970, 4170, 4370, 4570, 4770, 4970, 5170, 5370],
    [40, 240, 440, 640, 840, 1040, 1240, 1440, 1640, 1840, 2040, 2240, 2440, 2640, 2840, 3040, 3240, 3440, 3640, 3840, 4040, 4240, 4440, 4640, 4840, 5040, 5240],
    [150, 350, 550, 750, 950, 1150, 1350, 1550, 1750, 1950, 2150, 2350, 2550, 2750, 2950, 3150, 3350, 3550, 3750, 3950, 4150, 4350, 4550, 4750, 4950],
    [50, 200, 400, 600, 800, 1000, 1200, 1400, 1600, 1800, 2000, 2200, 2400, 2600, 2800, 3000, 3200, 3400, 3600, 3800, 4000, 4200, 4400, 4600],
    [120, 250, 450, 650, 850, 1050, 1250, 1450, 1650, 1850, 2050, 2250, 2450, 2650, 2850, 3050, 3250, 3450, 3650, 3850, 4050, 4250, 4450],
    [300, 500, 700, 900, 1100, 1300, 1500, 1700, 1900, 2100, 2300, 2500, 2700, 2900, 3100, 3300, 3500, 3700, 3900, 4100, 4300],
    [150, 350, 550, 750, 950, 1150, 1350, 1550, 1750, 1950, 2150, 2350, 2550, 2750, 2950, 3150, 3350, 3550, 3750, 3950, 4150],
    [350, 550, 750, 950, 1150, 1350, 1550, 1750, 1950, 2150, 2350, 2550, 2750, 2950, 3150, 3350, 3550, 3750, 3950],
    [400, 600, 800, 1000, 1200, 1400, 1600, 1800, 2000, 2200, 2400, 2600, 2800, 3000, 3200, 3400, 3600, 3800],
    [470, 670, 870, 1070, 1270, 1470, 1670, 1870, 2070, 2270, 2470, 2670, 2870, 3070, 3270, 3470, 3670],
    [450, 650, 850, 1050, 1250, 1450, 1650, 1850, 2050, 2250, 2450, 2650, 2850, 3050, 3250, 3450, 3650],
    [500, 700, 900, 1100, 1300, 1500, 1700, 1900, 2100, 2300, 2500, 2700, 2900, 3100, 3300, 3500],
    [550, 750, 950, 1150, 1350, 1550, 1750, 1950, 2150, 2350, 2550, 2750, 2950, 3150, 3350],
    [650, 850, 1050, 1250, 1450, 1650, 1850, 2050, 2250, 2450, 2650, 2850, 3050, 3250],
    [700, 900, 1100, 1300, 1500, 1700, 1900, 2100, 2300, 2500, 2700, 2900, 3100],
    [800, 1000, 1200, 1400, 1600, 1800, 2000, 2200, 2400, 2600, 2800, 3000],
    [850, 1050, 1250, 1450, 1650, 1850, 2050, 2250, 2450, 2650, 2850],
    [950, 1150, 1350, 1550, 1750, 1950, 2150, 2350, 2550, 2750],
    [1100, 1300, 1500, 1700, 1900, 2100, 2300, 2500, 2700],
    [1200, 1400, 1600, 1800, 2000, 2200, 2400, 2600],
    [1300, 1500, 1700, 1900, 2100, 2300, 2500],
    [1500, 1700, 1900, 2100, 2300],
]
gsa_points = [
    (1800, 18.3, 13), (2120, 18.5, 15), (2310, 18.2, 14), (2600, 18.6, 13), (2830, 18.6, 13), (2820, 18.3, 14),
    (2930, 18.2, 15.8), (2440, 17.8, 12.5), (1900, 18, 8), (1900, 17.5, 7), (1480, 17, 14), (1510, 17, 5),
    (1700, 16.8, 14.5), (1920, 16.9, 8), (3280, 17.1, 15.3), (3430, 16.8, 15), (2230, 16.8, 11.5), (2440, 16.9, 11.5),
    (2080, 16.5, 14), (1800, 16.3, 10), (2320, 16.3, 12.5), (1630, 16, 8.5), (1860, 16, 11), (2160, 16, 10),
    (2170, 15.7, 14.5), (2400, 15.7, 14), (1560, 15.5, 5.5), (1700, 15.4, 7.5), (970, 14.9, 3), (2260, 15.3, 14),
    (1540, 14.9, 6.5), (1750, 14.9, 12), (1900, 15, 8), (2040, 15, 12), (2270, 14.9, 13), (2700, 15, 12.5),
    (2790, 14.9, 14), (2940, 15, 13.5), (3150, 15.1, 13.5), (3700, 15, 14), (3600, 14.8, 14), (3530, 14.7, 14),
    (3500, 14.4, 13.5), (3840, 14.5, 14), (3660, 14.1, 13.5), (4070, 14.1, 10.5), (4420, 13.8, 10.8), (3830, 13.7, 13),
    (3060, 13.7, 12), (3020, 13.4, 12.5), (3730, 13.2, 12.5), (2830, 13.5, 11), (2870, 14.1, 10), (3310, 13, 12),
    (3530, 12.6, 12.5), (2740, 13, 12.5), (2900, 13.1, 11.5), (2920, 12.3, 12), (3500, 12.2, 8), (3790, 11.8, 10.5),
    (4070, 11, 10.5), (4280, 11.1, 10.5), (3450, 11, 6.5), (3280, 11.3, 10), (3100, 11.7, 10), (4520, 9.3, 8.5),
    (3400, 9.4, 8.5), (3570, 9.1, 8), (3300, 8.8, 8), (3550, 8.6, 8), (3400, 8.3, 7), (3750, 8.2, 8), (3640, 7.9, 7),
    (3800, 7.9, 7.5), (4620, 7.9, 7.5), (4360, 7.8, 7.5), (3880, 7.5, 7.5), (3830, 7.3, 7), (3950, 7.3, 7),
    (4350, 7.1, 7), (3870, 6.8, 6.5), (4700, 6.8, 7), (4120, 6.8, 6.5), (4050, 6.3, 6), (4000, 5.9, 5.8),
    (4300, 5.9, 5.5), (4450, 5.9, 5.5), (4600, 5.9, 5.5), (4750, 5.9, 5.5), (4200, 5.6, 5), (4450, 5.5, 5),
    (4650, 5.4, 5), (4400, 5.2, 4.8), (4850, 5.2, 4.5), (4780, 4.4, 3.8), (4600, 4.2, 3.5), (4650, 3.9, 3.2),
    (4950, 3.8, 3), (5150, 3.5, 2.8), (5050, 3.3, 2.5), (4700, 3.2, 2.6), (5100, 3, 2.5), (4950, 2.9, 2.3),
    (5050, 2.5, 2), (5250, 2.5, 2), (5400, 2.1, 2), (5500, 1.4, 1.5), (5700, 1.3, 1.2), (5900, 1.1, 1),
    (6150, 1.6, 1.5), (6200, 1.4, 1.4), (6120, .9, .8), (6350, .7, .7), (6570, .95, 1), (6680, .7, .8), (6550, .5, .7),
    (6780, .35, .5), (5850, .9, .8), (1450, 13.7, 13), (1500, 13, 12.5), (1700, 13.5, 12.5), (1750, 13.9, 13),
    (1800, 14.5, 13), (1900, 14.2, 13.5), (2050, 14.6, 13.5), (2150, 14.2, 14), (2250, 14, 13.5), (2400, 14.5, 13.5),
    (2450, 13.8, 13.5), (2550, 13.9, 13), (2200, 13.5, 13), (2300, 13.2, 12.5), (1800, 13, 12.5), (2000, 12.7, 12.5),
    (2150, 12.6, 12.5), (2350, 12.3, 12), (2500, 12.9, 12), (2550, 12.3, 12), (1700, 12.3, 11), (1900, 12.1, 11.5),
    (2150, 12, 11.5), (2650, 12.1, 11), (1400, 12.2, 10.5), (1250, 12.5, 9.5), (1200, 13, 5), (1050, 13.3, 5),
    (1200, 13.6, 5), (1350, 14.1, 4), (1250, 13.7, 7), (980, 14, 2), (950, 12.6, 3), (800, 12.6, 2), (720, 12.2, 2.5),
    (520, 12.2, 2.5), (950, 12, 3), (850, 11.5, 3.5), (1020, 11.5, 3), (800, 11, 9.5), (720, 11.5, 3), (570, 11.1, 1),
    (560, 10.5, 1), (530, 10.2, 1), (470, 9.7, 1), (600, 9.7, 1.5), (650, 9.3, 6), (800, 9.6, 2.5), (950, 9.8, 9),
    (800, 8.5, 8), (420, 8.5, 1.5), (500, 8.5, 1), (350, 8, 7), (550, 8.2, 2), (400, 7.5, 3), (700, 7.6, 6), (300, 7.5, 1.5),
    (280, 7, 1.5), (310, 6.8, 1), (400, 6.9, 4), (300, 6.4, 4.5), (500, 6.8, 3), (240, 5.6, 1), (200, 5, 1), (150, 4.3, 1),
    (300, 5.9, 3.5), (400, 5.5, 4), (350, 5, 3.5), (900, 11, 3), (1000, 11, 6), (1100, 10.7, 8), (700, 10.5, 3),
    (800, 10.3, 4), (950, 10.5, 6), (700, 9.8, 4), (900, 9.6, 6), (600, 9, 4), (750, 9, 6), (1000, 9.3, 8),
]

uptake_ticks = [0, 5, 10, 15, 20]
capacity_ticks = [0, 2, 4, 6, 8, 10, 12, 14, 16]
uptake_label = "C$_2$H$_6$ uptake at 1 bar (cm$^3$/g)"
capacity_label = "C$_2$H$_6$ working capacity (cm$^3$/g)"

WIDTH, HEIGHT = 1231, 936
JET = matplotlib.colormaps["jet"]
FONT = 19


def panel_frame(rows, mid, points, x_scale=1):
    records = []
    for uptake, capacity, xs in zip(row_uptake, row_capacity, rows):
        records += [(x * x_scale, uptake, capacity) for x in xs]
    for uptake, capacity, xs in zip(mid_uptake, mid_capacity, mid):
        records += [(x * x_scale, uptake, capacity) for x in xs]
    records += list(points)
    df = pd.DataFrame(records, columns=["x", "uptake", "capacity"])
    return df.sort_values("capacity")


def px_axes(fig, left, top, right, bottom):
    return fig.add_axes([left / WIDTH, 1 - bottom / HEIGHT, (right - left) / WIDTH, (bottom - top) / HEIGHT])


def draw_panel(fig, box, cbar_box, df, tag, xlabel, xlim, xticks, xticklabels, xpad=7):
    ax = px_axes(fig, *box)
    sns.scatterplot(data=df, x="x", y="uptake", hue="capacity", palette=JET, hue_norm=(0, 16),
                    s=78, linewidth=0, legend=False, ax=ax)
    ax.set_xlim(*xlim)
    ax.set_ylim(0, 20)
    ax.set_xticks(xticks)
    ax.set_xticklabels(xticklabels)
    ax.set_yticks(uptake_ticks)
    ax.tick_params(direction="in", length=4, width=1.2, labelsize=FONT, color="#333333", pad=5)
    ax.set_xlabel(xlabel, fontsize=FONT, labelpad=xpad)
    ax.set_ylabel(uptake_label, fontsize=FONT, labelpad=1)
    ax.text(0.018, 0.937, tag, transform=ax.transAxes, fontsize=FONT, va="center", ha="left")
    for spine in ax.spines.values():
        spine.set_visible(True)
        spine.set_linewidth(1.4)
        spine.set_color("#333333")

    cax = px_axes(fig, *cbar_box)
    mappable = ScalarMappable(norm=Normalize(0, 16), cmap=JET)
    cbar = fig.colorbar(mappable, cax=cax, ticks=capacity_ticks)
    cbar.ax.tick_params(direction="out", length=5, width=1.2, labelsize=FONT, color="#333333", pad=4)
    cbar.set_label(capacity_label, fontsize=FONT, labelpad=3)
    cbar.outline.set_linewidth(1.2)
    cbar.outline.set_edgecolor("#333333")


def main():
    sns.set_theme(style="ticks")
    plt.rcParams["font.family"] = ["Liberation Sans", "DejaVu Sans"]
    plt.rcParams["mathtext.default"] = "regular"
    plt.rcParams["text.color"] = "#222222"
    plt.rcParams["axes.labelcolor"] = "#222222"
    plt.rcParams["xtick.labelcolor"] = "#222222"
    plt.rcParams["ytick.labelcolor"] = "#222222"

    fig = plt.figure(figsize=(WIDTH / 100, HEIGHT / 100), dpi=100)
    draw_panel(fig, (86, 21, 497, 392), (512, 21, 532, 392), panel_frame(void_rows, void_mid, void_points, 0.01),
               "(a)", "Void fraction", (0, 1), [0, .2, .4, .6, .8, 1], ["0.0", "0.2", "0.4", "0.6", "0.8", "1.0"])
    draw_panel(fig, (708, 21, 1115, 392), (1128, 21, 1148, 392), panel_frame(pld_rows, pld_mid, pld_points),
               "(b)", "Pore limiting diameter (Å)", (0, 25), [0, 5, 10, 15, 20, 25], ["0", "5", "10", "15", "20", "25"])
    draw_panel(fig, (86, 497, 497, 867), (512, 497, 532, 867), panel_frame(vsa_rows, vsa_mid, vsa_points),
               "(c)", "Volumetric surface area (m$^2$/cm$^3$)", (0, 3500), [0, 1000, 2000, 3000], ["0", "1000", "2000", "3000"], xpad=4)
    draw_panel(fig, (708, 497, 1115, 867), (1128, 497, 1148, 867), panel_frame(gsa_rows, gsa_mid, gsa_points),
               "(d)", "Gravimetric surface area (m$^2$/g)", (0, 7000), [0, 2000, 4000, 6000], ["0", "2000", "4000", "6000"], xpad=4)
    fig.savefig("out.png", dpi=100)


if __name__ == "__main__":
    main()
